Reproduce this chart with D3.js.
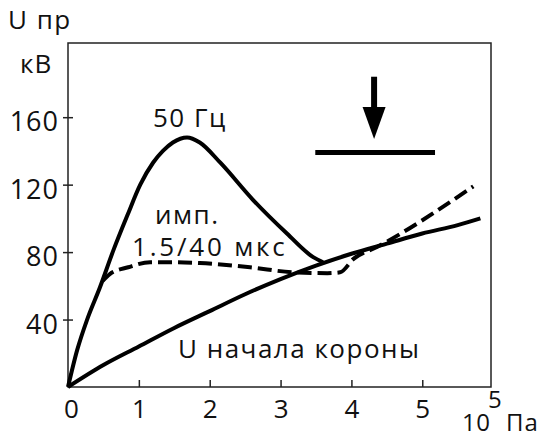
<!DOCTYPE html>
<meta charset="utf-8">
<style>
    body { margin: 0; background: #fff; }
    text { font-family: "Open Sans", sans-serif; fill: #111; }
</style>
<div id="chart"></div>
<script src="https://d3js.org/d3.v7.min.js"></script>
<script>
    // values (x in 10^5 Pa, y in kV)
    var xTicks = [0, 1, 2, 3, 4, 5];
    var yTicks = [40, 80, 120, 160];

    var freq50X = [0, 0.13, 0.27, 0.45, 0.64, 0.84, 1.02, 1.2, 1.34, 1.48, 1.68, 1.86, 2.15, 2.61, 3.09, 3.46, 3.60];
    var freq50Y = [0, 22, 40, 59, 81, 102, 120, 133, 140, 145, 148, 145, 133, 111, 91, 77, 74];

    var impulseX = [0.49, 0.59, 0.85, 1.16, 1.51, 1.86, 2.57, 3.18, 3.66, 3.84, 4.03, 4.36, 5.72];
    var impulseY = [63, 67, 71, 74, 74, 73.5, 71, 68, 67.5, 68, 76, 83, 119];

    var coronaX = [0, 0.5, 1, 1.5, 2, 2.5, 3, 3.5, 4, 4.5, 5, 5.5, 5.82];
    var coronaY = [0, 13, 24, 35, 45, 55, 64, 72, 79, 85, 91, 96, 100];

    // arrow and bar (annotation), data units
    var arrowX = 4.32, arrowTop = 184, arrowBase = 166, arrowTip = 147;
    var barX = [3.49, 5.18], barY = 139;

    var width = 541, height = 439;
    var svg = d3.select("#chart").append("svg")
        .attr("width", width)
        .attr("height", height);

    var x = d3.scaleLinear().domain([0, 5.97]).range([68, 491]);
    var y = d3.scaleLinear().domain([0, 204]).range([387, 43]);

    // frame
    svg.append("rect")
        .attr("x", x(0)).attr("y", y(204))
        .attr("width", x(5.97) - x(0)).attr("height", y(0) - y(204))
        .attr("fill", "none").attr("stroke", "#222").attr("stroke-width", 1.5);

    // x axis
    var gx = svg.append("g")
        .attr("transform", "translate(0," + y(0) + ")")
        .call(d3.axisBottom(x).tickValues(xTicks).tickFormat(d3.format("d"))
            .tickSizeInner(-7).tickSizeOuter(0).tickPadding(13));
    gx.select(".domain").remove();
    gx.selectAll(".tick line").attr("stroke", "#222").attr("stroke-width", 1.5)
        .style("display", function(d) { return d === 0 ? "none" : null; });
    gx.selectAll(".tick text").attr("font-size", 26).attr("font-family", "Open Sans").attr("fill", "#111");
    gx.selectAll(".tick").filter(function(d) { return d === 0; }).select("text").attr("dx", 3);

    // y axis
    var gy = svg.append("g")
        .attr("transform", "translate(" + x(0) + ",0)")
        .call(d3.axisLeft(y).tickValues(yTicks).tickSize(5).tickPadding(4));
    gy.select(".domain").remove();
    gy.selectAll(".tick line").attr("x1", 5).attr("stroke", "#222").attr("stroke-width", 1.5);
    gy.selectAll(".tick text").attr("font-size", 27).attr("font-family", "Open Sans")
        .attr("fill", "#111").attr("dy", "0.5em").attr("letter-spacing", 1);

    var line = d3.line()
        .x(function(d) { return x(d[0]); })
        .y(function(d) { return y(d[1]); })
        .curve(d3.curveMonotoneX);

    var curves = [
        { xs: freq50X, ys: freq50Y, dash: null },
        { xs: impulseX, ys: impulseY, dash: "14,6" },
        { xs: coronaX, ys: coronaY, dash: null }
    ];

    svg.selectAll(".curve")
        .data(curves)
        .enter().append("path")
        .attr("class", "curve")
        .attr("d", function(c) { return line(c.xs.map(function(v, i) { return [v, c.ys[i]]; })); })
        .attr("fill", "none")
        .attr("stroke", "#000")
        .attr("stroke-width", 4)
        .attr("stroke-linejoin", "round")
        .attr("stroke-dasharray", function(c) { return c.dash; });

    // arrow
    svg.append("line")
        .attr("x1", x(arrowX)).attr("x2", x(arrowX))
        .attr("y1", y(arrowTop)).attr("y2", y(arrowBase) + 2)
        .attr("stroke", "#000").attr("stroke-width", 6);
    svg.append("path")
        .attr("d", "M" + (x(arrowX) - 11.5) + "," + y(arrowBase) +
                   "L" + (x(arrowX) + 11.5) + "," + y(arrowBase) +
                   "L" + x(arrowX) + "," + y(arrowTip) + "Z")
        .attr("fill", "#000");
    svg.append("line")
        .attr("x1", x(barX[0])).attr("x2", x(barX[1]))
        .attr("y1", y(barY)).attr("y2", y(barY))
        .attr("stroke", "#000").attr("stroke-width", 5);

    // labels
    function label(txt, px, py, spacing, size) {
        return svg.append("text").attr("x", px).attr("y", py)
            .attr("font-size", size || 26).attr("letter-spacing", spacing).text(txt);
    }
    label("U пр", 8, 29, 1.5);
    label("кВ", 20, 73, 1);
    label("50 Гц", 153, 127, 1.5);
    label("имп.", 155, 224, 1.5);
    label("1.5/40 мкс", 132, 256, 2.8);
    label("U начала короны", 178, 358, 1.5);
    label("10", 462, 431, 0.5, 24);
    label("5", 488, 408, 0, 24);
    label("Па", 506, 431, 1, 24);
</script>
